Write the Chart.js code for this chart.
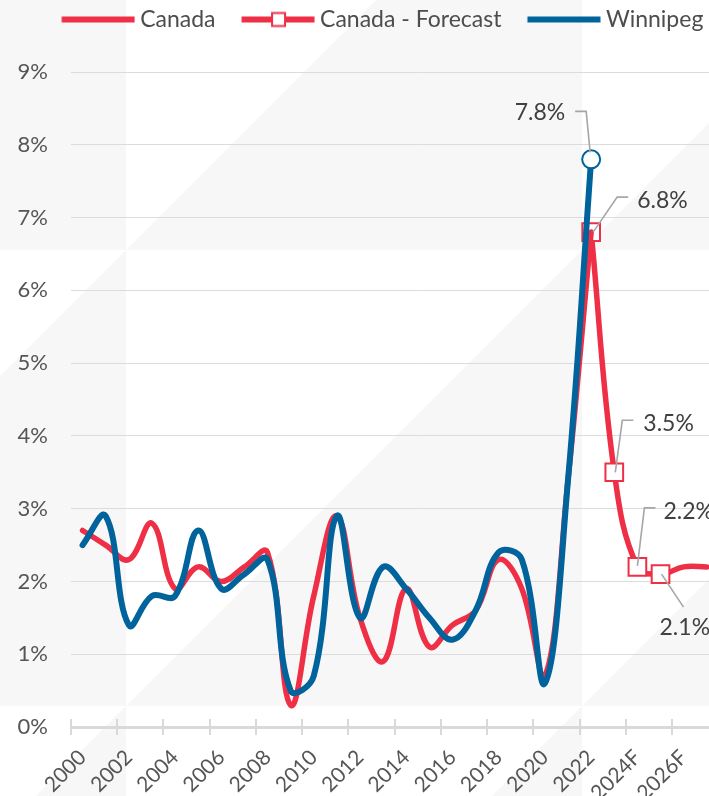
<!DOCTYPE html>
<html>
<head>
<meta charset="utf-8">
<script src="https://cdn.jsdelivr.net/npm/chart.js@4.4.1/dist/chart.umd.min.js"></script>
<style>
  html, body { margin: 0; padding: 0; background: #fff; overflow: hidden; }
  body { width: 709px; height: 796px; }
  canvas { display: block; }
</style>
</head>
<body>
<canvas id="cpiChart" width="781" height="796"></canvas>
<script>
// Categories (2028F / 2029F sit outside the visible crop)
const years = ['2000', '2001', '2002', '2003', '2004', '2005', '2006', '2007', '2008', '2009',
               '2010', '2011', '2012', '2013', '2014', '2015', '2016', '2017', '2018', '2019',
               '2020', '2021', '2022', '2023F', '2024F', '2025F', '2026F', '2027F', '2028F', '2029F'];

// Annual CPI change, %
const canada = [2.7, 2.5, 2.3, 2.8, 1.9, 2.2, 2.0, 2.2, 2.4, 0.3,
                1.8, 2.9, 1.5, 0.9, 1.9, 1.1, 1.4, 1.6, 2.3, 1.9,
                0.7, 3.4, 6.8];
const canadaForecast = [null, null, null, null, null, null, null, null, null, null,
                        null, null, null, null, null, null, null, null, null, null,
                        null, null, 6.8, 3.5, 2.2, 2.1, 2.2, 2.2];
const winnipeg = [2.5, 2.9, 1.4, 1.8, 1.8, 2.7, 1.9, 2.1, 2.3, 0.5,
                  0.7, 2.9, 1.5, 2.2, 1.9, 1.5, 1.2, 1.6, 2.4, 2.3,
                  0.6, 3.4, 7.8];
const yTicks = [0, 1, 2, 3, 4, 5, 6, 7, 8, 9];

const RED = '#ee2f45';
const BLUE = '#00639b';
const FONT = 'Lato, "Open Sans", sans-serif';
const TEXT = '#555555';

// points that carry a marker + callout
const forecastMarked = [22, 23, 24, 25];
const winnipegMarked = [22];

function legendIcon(color, withSquare) {
    const c = document.createElement('canvas');
    c.width = 98; c.height = 20;
    const g = c.getContext('2d');
    g.fillStyle = color;
    g.fillRect(24.5, 7, 73, 6);
    if (withSquare) {
        g.fillStyle = '#fff';
        g.fillRect(55, 3.5, 13, 13);
        g.strokeStyle = color;
        g.lineWidth = 2;
        g.strokeRect(55, 3.5, 13, 13);
    }
    return c;
}

// light diagonal background pattern
const backdrop = {
    id: 'backdrop',
    beforeDraw(chart) {
        const ctx = chart.ctx;
        const s = 456;
        ctx.save();
        ctx.fillStyle = '#ffffff';
        ctx.fillRect(0, 0, chart.width, chart.height);
        ctx.fillStyle = '#f7f7f7';
        for (let cx = 126 - s; cx < chart.width; cx += s) {
            for (let cy = 250 - s; cy < chart.height; cy += s) {
                ctx.beginPath();
                ctx.moveTo(cx + s, cy);
                ctx.lineTo(cx + s, cy + s);
                ctx.lineTo(cx, cy + s);
                ctx.closePath();
                ctx.fill();
            }
        }
        ctx.restore();
    }
};

// extra room under the legend, and nudge it left a bit
const legendSpace = {
    id: 'legendSpace',
    beforeInit(chart) {
        const fit = chart.legend.fit;
        chart.legend.fit = function () {
            fit.call(this);
            this.height += 31;
        };
    },
    afterLayout(chart) {
        chart.legend.left -= 17;
        chart.legend.right -= 17;
    }
};

// tick marks crossing the x axis line, every 2 years
const axisTicks = {
    id: 'axisTicks',
    beforeDatasetsDraw(chart) {
        const xs = chart.scales.x;
        const ctx = chart.ctx;
        const half = (xs.getPixelForTick(1) - xs.getPixelForTick(0)) / 2;
        ctx.save();
        ctx.strokeStyle = '#d9d9d9';
        ctx.lineWidth = 2;
        for (let i = 0; i < years.length; i += 2) {
            const x = Math.round(xs.getPixelForTick(i) - half);
            ctx.beginPath();
            ctx.moveTo(x, xs.top - 8);
            ctx.lineTo(x, xs.top + 8);
            ctx.stroke();
        }
        ctx.restore();
    }
};

// value callouts with leader lines
const callouts = {
    id: 'callouts',
    afterDatasetsDraw(chart) {
        const ctx = chart.ctx;
        const items = [
            { ds: 2, i: 22, val: winnipeg[22], line: [[-16, -48], [-5, -48], [-1, -7]], tx: -26, ty: -47, align: 'right' },
            { ds: 1, i: 22, val: canadaForecast[22], line: [[37, -35], [26, -35], [2, 0]], tx: 46, ty: -32, align: 'left' },
            { ds: 1, i: 23, val: canadaForecast[23], line: [[19, -52], [8, -52], [1, 0]], tx: 29, ty: -49, align: 'left' },
            { ds: 1, i: 24, val: canadaForecast[24], line: [[18, -59], [7, -59], [0, -1]], tx: 26, ty: -55, align: 'left' },
            { ds: 1, i: 25, val: canadaForecast[25], line: [[1, 0], [23, 33]], tx: -1, ty: 53, align: 'left' }
        ];
        ctx.save();
        items.forEach(it => {
            const p = chart.getDatasetMeta(it.ds).data[it.i];
            ctx.strokeStyle = '#a6a6a6';
            ctx.lineWidth = 1.6;
            ctx.beginPath();
            it.line.forEach(([dx, dy], k) => {
                if (k === 0) ctx.moveTo(p.x + dx, p.y + dy);
                else ctx.lineTo(p.x + dx, p.y + dy);
            });
            ctx.stroke();
            ctx.fillStyle = '#404040';
            ctx.font = '23px ' + FONT;
            ctx.textAlign = it.align;
            ctx.textBaseline = 'middle';
            ctx.fillText(it.val.toFixed(1) + '%', p.x + it.tx, p.y + it.ty);
        });
        ctx.restore();
    }
};

const ctx = document.getElementById('cpiChart').getContext('2d');
new Chart(ctx, {
    type: 'line',
    data: {
        labels: years,
        datasets: [
            {
                label: 'Canada',
                data: canada,
                borderColor: RED,
                borderWidth: 5.5,
                tension: 0.4,
                pointRadius: 0,
                borderCapStyle: 'round',
                borderJoinStyle: 'round',
                order: 1
            },
            {
                label: 'Canada - Forecast',
                data: canadaForecast,
                borderColor: RED,
                borderWidth: 5.5,
                tension: 0.4,
                pointStyle: 'rect',
                pointRadius: canadaForecast.map((v, i) => forecastMarked.includes(i) ? 12.5 : 0),
                pointBorderWidth: 2,
                pointBorderColor: RED,
                pointBackgroundColor: '#ffffff',
                borderCapStyle: 'round',
                borderJoinStyle: 'round',
                order: 2
            },
            {
                label: 'Winnipeg',
                data: winnipeg,
                borderColor: BLUE,
                borderWidth: 6,
                tension: 0.4,
                pointStyle: 'circle',
                pointRadius: winnipeg.map((v, i) => winnipegMarked.includes(i) ? 9 : 0),
                pointBorderWidth: 2,
                pointBorderColor: BLUE,
                pointBackgroundColor: '#ffffff',
                borderCapStyle: 'round',
                borderJoinStyle: 'round',
                order: 0
            }
        ]
    },
    options: {
        responsive: false,
        animation: false,
        events: [],
        layout: { padding: 0 },
        plugins: {
            tooltip: { enabled: false },
            legend: {
                position: 'top',
                align: 'center',
                labels: {
                    usePointStyle: true,
                    pointStyleWidth: 85,
                    boxHeight: 20,
                    padding: 8,
                    color: '#4d4d4d',
                    font: { family: FONT, size: 23 },
                    generateLabels: () => [
                        { text: 'Canada', pointStyle: legendIcon(RED, false), fillStyle: 'transparent', strokeStyle: 'transparent', lineWidth: 0, hidden: false, datasetIndex: 0, fontColor: '#4d4d4d' },
                        { text: 'Canada - Forecast', pointStyle: legendIcon(RED, true), fillStyle: 'transparent', strokeStyle: 'transparent', lineWidth: 0, hidden: false, datasetIndex: 1, fontColor: '#4d4d4d' },
                        { text: 'Winnipeg', pointStyle: legendIcon(BLUE, false), fillStyle: 'transparent', strokeStyle: 'transparent', lineWidth: 0, hidden: false, datasetIndex: 2, fontColor: '#4d4d4d' }
                    ]
                }
            }
        },
        scales: {
            x: {
                offset: true,
                grid: { display: false, offset: true },
                border: { display: true, color: '#d9d9d9', width: 3 },
                afterFit: s => { s.height = 69; },
                ticks: {
                    autoSkip: false,
                    minRotation: 45,
                    maxRotation: 45,
                    padding: 10,
                    color: TEXT,
                    font: { family: FONT, size: 21 },
                    callback: function (value, index) {
                        return (index % 2 === 0 && index <= 26) ? years[index] : '';
                    }
                }
            },
            y: {
                min: yTicks[0],
                max: yTicks[yTicks.length - 1],
                afterFit: s => { s.width = 71; },
                afterBuildTicks: s => { s.ticks = yTicks.map(v => ({ value: v })); },
                grid: { color: '#dcdcdc', lineWidth: 1, drawTicks: false },
                border: { display: false },
                ticks: {
                    padding: 23,
                    color: TEXT,
                    font: { family: FONT, size: 22 },
                    callback: v => v + '%'
                }
            }
        }
    },
    plugins: [backdrop, legendSpace, axisTicks, callouts]
});
</script>
</body>
</html>
